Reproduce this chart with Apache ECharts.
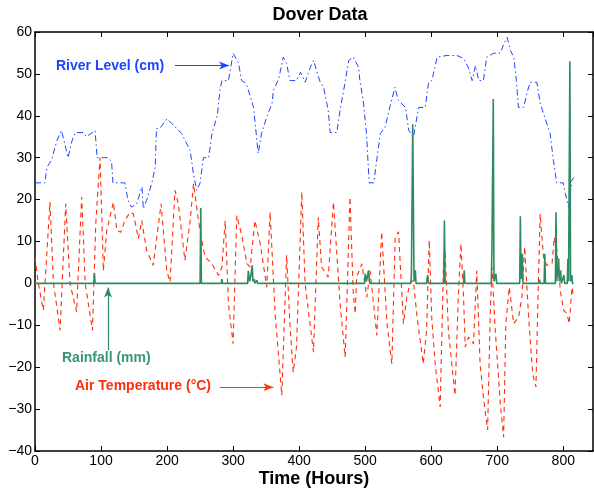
<!DOCTYPE html>
<html>
<head>
<meta charset="utf-8">
<script src="https://cdn.jsdelivr.net/npm/echarts@6/dist/echarts.min.js"></script>
<style>
  html, body { margin: 0; padding: 0; background: #fff; }
  #main { width: 594px; height: 488px; }
</style>
</head>
<body>
<div id="main"></div>
<script>
// river level (cm), hours
var riverHours = [0,15,18,25,33,38,40,45,50,56,61,73,78,91,94,111,116,118,136,141,146,154,162,164,169,177,182,184,189,200,210,222,235,240,245,250,255,263,268,276,280,283,293,300,308,313,320,331,338,343,351,359,361,369,376,381,386,396,402,409,417,422,427,432,437,444,447,457,462,470,475,482,490,492,497,502,506,513,518,523,530,538,545,550,561,566,573,581,591,596,601,609,624,639,649,656,662,667,672,679,684,694,705,710,715,720,725,729,732,740,746,750,760,765,775,780,785,790,800,803,808,813,816];
var riverLevel = [24,24,27.7,29.4,34,35.8,36.5,33.4,30,34,36,36,35,36.5,30,30,29,24,24,19.8,18.2,19,23,17.8,19.8,24,27.7,37,37,39.3,37.7,35.8,31.7,26,22.2,24,30,30,35.8,40,46,48.4,48.4,54.9,52.7,48.4,47.7,42,31,35.8,39.7,43,46,48.8,54,52.5,48.4,48.4,50.4,48,51.6,53.2,50.4,48,46.8,41.3,36,36,41.3,48.4,53.2,54,51.6,48.4,43.7,35.8,24,24,30,35.8,37.2,42.5,46.8,43.7,42,36.5,34.8,42,42,48,48.4,54,54.4,54.4,53.7,51.6,48.4,52,48.4,48.4,54,54.9,55,57.2,58.7,55.6,54,48.4,42,42,46,48,48,43,38.2,35.8,29.4,24,24,21.5,18.2,24.6,25.3];

// air temperature (deg C)
var tempHours = [0,5,12.6,22.7,28,38,46.5,53,63,70.7,76,87,92,98.5,103.5,108.6,118.7,124,130,136,144,149,156.6,161.6,169,179,191,199.5,204.5,212,217,227,235,240,247.5,252.5,257.5,268,278,283,288,293,300,305.5,313,321,326,333,341,351,356,363.6,373.7,381,386,391,396,404,409,421.7,429,434,444,452,462,469.7,477,482,485,487,495,502.5,507.5,517.6,525,533,540.4,545.4,550.5,558,563,568,573,578,588,593,597,601,606,613.6,618.6,621,626,636,641,645,649,651.5,656.6,664,669,674,679,685.4,689.4,692,697,704.6,709.6,713,718.2,724.8,732.4,737.4,741.5,747.5,753.6,758.6,761.7,765,770,775,783,786.4,790.4,795.5,800.5,805.6,809,813.2,815.7];
var tempValues = [6.3,0,-6.4,19.4,0,-11.2,19,0,-6.8,20.6,0,-11.2,14.2,30,3,12.6,19.4,12.6,12.2,15,17,16.6,10.7,15,7.9,4.3,19,3,0.3,22.2,19,5.5,15,23.8,15,10.3,6.3,4.7,1.9,3.9,15,-4.9,-14.4,16.2,11.5,4.7,3.9,15,9.5,-0.9,17,-7.2,-26.7,6.7,-9.6,-21.2,-15.2,21.8,0,-16.4,15.8,3.9,1.5,19.4,-4.9,-17.6,20.6,-2.5,-7.2,1.5,4.7,-3.3,3,-12.4,12.3,-9.6,-19.2,11,12.3,-9.6,-3.3,0,0.7,-7.2,-19.2,-11.2,10.3,-8.8,-19.2,-29.5,4.7,7.9,-11.2,-26.7,-3.3,9.5,-3.3,-15.2,-12.8,-14.4,3,-19.2,-27.1,-35,-7.2,3.9,-11.2,-28.7,-36.7,-9.6,-0.9,-9.6,-8,-3.3,8.7,-8,-21.6,-24.7,-3.3,16.6,6.3,4.3,4.7,11,7.9,-1.7,-6.4,-7.2,-9.6,-0.9,-3.3];

// rainfall (mm)
var rainHours = [0,89,90,91,250,251,252,282,283,284,322,323,325,327,329,330,332,333,336,337,499,500,502,505,507,569,570,572,574,576,577,593,594.5,596,619,620,621,649,650,651,691,692,694,695,698,699,734,735,736,738,739,763,764,765,771,772,773,788,789,790,793,794,796,797,800,801,802,806,807,808,810,811,813,814,815.6];
var rainValues = [0,0,2.4,0,0,18,0,0,1,0,0,3,0.5,2,4.3,0.5,1,0,0.8,0,0,2.3,0.5,3.1,0,0,1.9,38,0.5,3.1,0,0,2,0,0,15,0,0,3.1,0,0,9,44,0.5,2.3,0,0,16,1,7.1,0,0,0.9,0,0,7.1,0,0,17,0.5,5.9,0.5,3.1,0,0,2,0,0,5.9,0.5,53,0.5,2,0,0];

var xTicks = 100, yTicks = 10;

function pairs(xs, ys) {
  var out = [];
  for (var i = 0; i < xs.length; i++) out.push([xs[i], ys[i]]);
  return out;
}

var font = '"Liberation Sans", Arial, Helvetica, sans-serif';
var blue = '#1f44ff', red = '#ff2d0a', green = '#2e8b5f';

var dom = document.getElementById('main');
var myChart = echarts.init(dom);

var axisLine = { show: true, onZero: false, lineStyle: { color: '#000', width: 1.5 } };
var tick = { show: true, inside: true, length: 5, lineStyle: { color: '#000', width: 1 } };

// arrow annotation helper
function arrow(from, to, color) {
  return {
    silent: true, symbol: ['none', 'arrow'], symbolSize: [6, 10],
    label: { show: false },
    lineStyle: { color: color, width: 1.2, type: 'solid' },
    data: [[{ coord: from }, { coord: to }]]
  };
}

var option = {
  animation: false,
  backgroundColor: '#fff',
  title: {
    text: 'Dover Data',
    left: 315, top: 1, textAlign: 'center',
    textStyle: { fontFamily: font, fontSize: 18, fontWeight: 'bold', color: '#000' }
  },
  grid: { left: 35, right: 1, top: 32, bottom: 37, outerBoundsMode: 'none', containLabel: false },
  xAxis: [{
    type: 'value', min: 0, max: 845, interval: xTicks,
    name: 'Time (Hours)', nameLocation: 'middle', nameGap: 19, nameMoveOverlap: false,
    nameTextStyle: { fontFamily: font, fontSize: 18, fontWeight: 'bold', color: '#000',
      verticalAlign: 'top' },
    axisLine: axisLine, axisTick: tick, splitLine: { show: false },
    axisLabel: { fontFamily: font, fontSize: 14, color: '#000', margin: 3, showMaxLabel: false }
  }, {
    type: 'value', position: 'top', min: 0, max: 845, interval: xTicks,
    axisLine: axisLine, axisTick: tick, splitLine: { show: false },
    axisLabel: { show: false }
  }],
  yAxis: [{
    type: 'value', min: -40, max: 60, interval: yTicks,
    axisLine: axisLine, axisTick: tick, splitLine: { show: false },
    axisLabel: {
      fontFamily: font, fontSize: 14, color: '#000', margin: 3,
      formatter: function (v) { return String(v).replace('-', '\u2212'); }
    }
  }, {
    type: 'value', position: 'right', min: -40, max: 60, interval: yTicks,
    axisLine: axisLine, axisTick: tick, splitLine: { show: false },
    axisLabel: { show: false }
  }],
  series: [
    {
      name: 'River Level (cm)', type: 'line', showSymbol: false,
      data: pairs(riverHours, riverLevel),
      lineStyle: { color: blue, width: 1, type: [6, 3, 1.5, 3] },
      markLine: arrow([212, 52], [294, 52], blue)
    },
    {
      name: 'Air Temperature', type: 'line', showSymbol: false,
      data: pairs(tempHours, tempValues),
      lineStyle: { color: red, width: 1.1, type: [5, 4] },
      markLine: arrow([280, -24.8], [361, -24.8], '#f0400a')
    },
    {
      name: 'Rainfall (mm)', type: 'line', showSymbol: false,
      data: pairs(rainHours, rainValues),
      lineStyle: { color: green, width: 1.6 },
      markLine: arrow([110.6, -16], [110.6, -1], green)
    }
  ],
  graphic: [
    { type: 'text', left: 56, top: 59,
      style: { text: 'River Level (cm)', fill: blue, font: 'bold 14px ' + font } },
    { type: 'text', left: 62, top: 351,
      style: { text: 'Rainfall (mm)', fill: '#3a9670', font: 'bold 14px ' + font } },
    { type: 'text', left: 75, top: 379,
      style: { text: 'Air Temperature (\u00b0C)', fill: red, font: 'bold 14px ' + font } }
  ]
};

myChart.setOption(option);
</script>
</body>
</html>
